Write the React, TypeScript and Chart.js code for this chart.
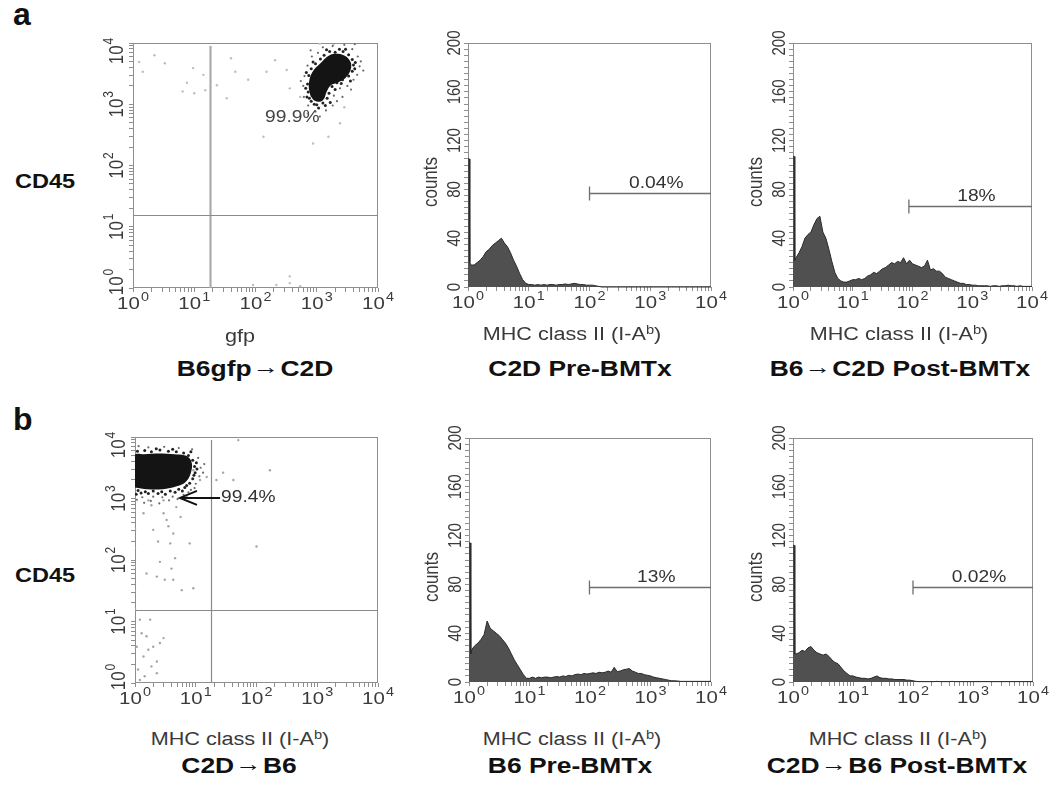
import React, { useEffect, useRef } from "react";
import { Chart, registerables } from "chart.js";

Chart.register(...registerables);

const FONT = '"Liberation Sans", Arial, Helvetica, sans-serif';
const SX = 1.2; // the original figure is stretched horizontally
const INK = "#3a3a3a";

// ---------- axis ticks ----------
const DECADE_EXPONENTS = [0, 1, 2, 3, 4];
const MINOR_MULTIPLIERS = [1, 2, 3, 4, 5, 6, 7, 8, 9];
const COUNT_TICK_LABELS = [0, 40, 80, 120, 160, 200];

// ---------- histogram channels (log10 of MHC class II fluorescence) ----------
const BIN_EXP = [0, 0.02, 0.03,
  0.05, 0.1, 0.15, 0.2, 0.25, 0.3, 0.35, 0.4, 0.45, 0.5, 0.55, 0.6, 0.65, 0.7, 0.75, 0.8, 0.85, 0.9, 0.95, 1.0,
  1.05, 1.1, 1.15, 1.2, 1.25, 1.3, 1.35, 1.4, 1.45, 1.5, 1.55, 1.6, 1.65, 1.7, 1.75, 1.8, 1.85, 1.9, 1.95, 2.0,
  2.05, 2.1, 2.15, 2.2, 2.25, 2.3, 2.35, 2.4, 2.45, 2.5, 2.55, 2.6, 2.65, 2.7, 2.75, 2.8, 2.85, 2.9, 2.95, 3.0,
  3.05, 3.1, 3.15, 3.2, 3.25, 3.3, 3.35, 3.4, 3.45, 3.5, 3.55, 3.6, 3.65, 3.7, 3.75, 3.8, 3.85, 3.9, 3.95, 4.0];

const HIST_C2D_PRE = [105, 105, 20,
  18, 18, 20, 22, 25, 29, 31, 34, 36, 38, 40, 36, 33, 28, 22, 17, 11, 6, 3, 2,
  2, 1.5, 2, 1.5, 2, 1.5, 2, 2, 1.5, 2, 2, 2.5, 2, 2.5, 3, 2.5, 2, 2, 1.5, 1.5,
  1.5, 1, 0.5, 0, 0, 0, 0, 0, 0, 0, 0, 0, 0, 0, 0, 0, 0, 0, 0, 0,
  0, 0, 0, 0, 0, 0, 0, 0, 0, 0, 0, 0, 0, 0, 0, 0, 0, 0, 0, 0];

const HIST_B6_TO_C2D_POST = [107, 107, 22,
  24, 28, 33, 40, 43, 45, 51, 56, 58, 45, 40, 31, 21, 12, 7, 5, 4, 4, 5, 6,
  6, 7, 6, 7, 9, 10, 12, 11, 13, 15, 16, 18, 20, 19, 21, 20, 24, 19, 22, 19,
  18, 17, 16, 17, 22, 14, 15, 13, 13, 11, 8, 7, 6, 5, 4, 3, 3, 2, 2, 1.5,
  1.5, 1, 1, 1, 1, 0.5, 1, 1, 0.5, 1, 1, 1.5, 1, 1, 0.5, 1, 0.5, 0.5, 0.5, 0.5];

const HIST_B6_PRE = [114, 114, 23,
  27, 30, 32, 35, 39, 50, 44, 42, 40, 38, 35, 32, 28, 23, 18, 14, 10, 6, 3, 3,
  4, 3, 4, 3.5, 4, 4, 3.5, 4, 4.5, 4, 5, 4.5, 5.5, 5, 6, 6.5, 6, 7, 6.5, 7,
  7.5, 7, 8, 7.5, 8, 9, 8, 12, 8.5, 9, 10, 10.5, 11, 9, 8, 7, 7, 6, 5.5, 5,
  4, 3.5, 3, 2.5, 2, 1.5, 1, 1, 0.8, 0.5, 0.5, 0.5, 0.5, 0.5, 0.5, 0.5, 0.5, 0.5, 0.5, 0.5];

const HIST_C2D_TO_B6_POST = [112, 112, 23,
  23, 24, 26, 25, 28, 29, 26, 24, 23, 22, 23, 21, 18, 16, 15, 12, 9, 7, 5, 5,
  4, 3.5, 3, 3, 2.5, 3, 4, 5, 3.5, 3, 3, 2.5, 2.5, 2, 2, 2, 2, 1.5, 1.5, 1,
  0.5, 0.3, 0.3, 0.3, 0.3, 0.3, 0.3, 0.5, 0.3, 0.3, 0.3, 0.3, 0.5, 0.3, 0.3, 0.3, 0.3, 0.3, 0.3, 0.3,
  0.3, 0.3, 0.3, 0.3, 0.3, 0.3, 0.3, 0.3, 0.3, 0.3, 0.3, 0.3, 0.3, 0.3, 0.3, 0.3, 0.3, 0.3, 0.3, 0.3];

// gate markers: [C2D Pre, B6->C2D Post, B6 Pre, C2D->B6 Post]
const HIST_GATE_START = [100, 87, 98, 100];
const HIST_GATE_LEVEL = [77, 66, 78, 78];
const HIST_GATE_LABELS = ["0.04%", "18%", "13%", "0.02%"];

// ---------- dot plots (log10 coordinates: [x, y]) ----------
type Pt = [number, number];

const DOT_A_CORE: Pt[] = [[2.9, 3.13], [2.96, 3.06], [3.05, 3.04], [3.12, 3.09], [3.16, 3.2], [3.23, 3.31],
  [3.35, 3.36], [3.47, 3.43], [3.55, 3.55], [3.56, 3.67], [3.49, 3.77], [3.38, 3.82], [3.26, 3.82],
  [3.15, 3.76], [3.06, 3.67], [2.96, 3.57], [2.89, 3.44], [2.87, 3.27], [2.9, 3.13]];

const DOT_A_EDGE: Pt[] = [[2.86, 3.2], [2.85, 3.33], [2.87, 3.47], [2.91, 3.58], [2.98, 3.66], [3.06, 3.74],
  [3.12, 3.8], [3.21, 3.86], [3.3, 3.85], [3.43, 3.86], [3.52, 3.81], [3.58, 3.73], [3.6, 3.64], [3.58, 3.54],
  [3.52, 3.46], [3.42, 3.4], [3.33, 3.35], [3.25, 3.29], [3.2, 3.18], [3.17, 3.1], [3.1, 3.02], [3.0, 2.99],
  [2.91, 3.05], [2.88, 3.1], [2.82, 3.26], [2.83, 3.52], [2.94, 3.69], [3.16, 3.89], [3.37, 3.9], [3.63, 3.68],
  [3.55, 3.38], [3.3, 3.24], [3.22, 3.03], [3.03, 2.94], [2.84, 3.12], [3.47, 3.9], [3.62, 3.58], [3.4, 3.34],
  [3.14, 2.98], [2.96, 3.0]];

const DOT_A_HALO: Pt[] = [[2.78, 3.3], [2.8, 3.46], [2.85, 3.63], [2.92, 3.78], [3.02, 3.84], [3.1, 3.93],
  [3.26, 3.95], [3.45, 3.97], [3.58, 3.9], [3.67, 3.78], [3.7, 3.62], [3.66, 3.48], [3.6, 3.4], [3.5, 3.3],
  [3.38, 3.26], [3.28, 3.14], [3.26, 2.98], [3.15, 2.9], [2.98, 2.88], [2.86, 2.98], [2.79, 3.12], [3.72, 3.7],
  [3.56, 3.24], [3.05, 2.8], [2.74, 3.38], [3.33, 3.05], [2.9, 3.88], [3.62, 3.98], [3.76, 3.55], [3.42, 3.12]];

const DOT_A_SPARSE: Pt[] = [[0.1, 3.69], [0.16, 3.53], [0.52, 3.67], [0.88, 3.35], [0.81, 3.21], [1.0, 3.18],
  [0.98, 3.59], [1.18, 3.23], [1.15, 3.48], [1.37, 3.31], [1.53, 3.1], [1.67, 3.53], [1.88, 3.4], [2.18, 3.53],
  [2.32, 3.72], [2.51, 3.56], [2.56, 3.26], [2.73, 3.12], [2.13, 2.47], [2.94, 2.36], [3.19, 2.47], [3.38, 2.69],
  [3.05, 3.99], [3.27, 3.97], [2.56, 0.08], [2.34, 0.05], [2.73, 0.03], [1.96, 0.05], [2.56, 0.19], [2.85, 2.85],
  [3.45, 2.95], [0.35, 3.8], [1.6, 3.75]];

const DOT_B_CORE: Pt[] = [[0, 3.18], [0.2, 3.15], [0.45, 3.15], [0.62, 3.18], [0.78, 3.23], [0.87, 3.31],
  [0.92, 3.42], [0.94, 3.54], [0.91, 3.64], [0.83, 3.7], [0.65, 3.72], [0.4, 3.73], [0.15, 3.72], [0, 3.71], [0, 3.18]];

const DOT_B_EDGE: Pt[] = [[0.04, 3.77], [0.16, 3.78], [0.27, 3.76], [0.41, 3.79], [0.55, 3.77], [0.68, 3.76],
  [0.8, 3.74], [0.88, 3.7], [0.95, 3.62], [0.98, 3.52], [0.99, 3.42], [0.95, 3.32], [0.9, 3.25], [0.82, 3.18],
  [0.72, 3.15], [0.58, 3.12], [0.44, 3.11], [0.3, 3.12], [0.17, 3.11], [0.05, 3.13], [0.02, 3.07], [0.22, 3.08],
  [0.5, 3.07], [0.66, 3.1], [1.02, 3.48], [1.01, 3.58], [0.92, 3.76], [0.35, 3.81], [0.62, 3.8], [0.85, 3.21],
  [0.1, 3.09], [0.38, 3.08], [0.78, 3.12], [0.97, 3.38]];

const DOT_B_HALO: Pt[] = [[0.06, 3.85], [0.22, 3.83], [0.48, 3.84], [0.72, 3.82], [0.94, 3.8], [1.04, 3.66],
  [1.08, 3.5], [1.06, 3.36], [1.0, 3.24], [0.92, 3.14], [0.8, 3.06], [0.62, 3.03], [0.45, 3.02], [0.3, 3.03],
  [0.12, 3.02], [0.03, 2.98], [0.26, 2.96], [0.56, 2.97], [0.7, 2.99], [1.12, 3.42], [1.14, 3.56], [0.88, 3.1],
  [0.4, 2.92], [0.15, 2.93], [0.98, 3.17]];

const DOT_B_SPARSE: Pt[] = [[0.27, 2.89], [0.47, 2.76], [0.52, 2.65], [0.63, 2.43], [0.58, 2.27], [0.9, 2.27],
  [0.66, 2.03], [0.19, 1.78], [0.49, 1.68], [0.63, 1.68], [0.96, 1.54], [0.36, 1.73], [0.77, 1.51], [0.6, 1.86],
  [0.41, 1.97], [0.3, 2.49], [0.14, 2.76], [0.22, 2.97], [0.47, 2.97], [0.68, 2.86], [0.85, 3.03], [0.55, 2.55],
  [0.75, 2.7], [0.38, 2.3], [0.08, 1.03], [0.19, 0.76], [0.3, 0.59], [0.14, 0.43], [0.05, 0.22], [0.36, 0.35],
  [0.41, 0.65], [0.11, 0.81], [0.25, 1.03], [0.16, 0.11], [0.47, 0.73], [0.03, 0.59], [0.27, 0.27], [0.08, 0.05],
  [0.22, 0.54], [0.36, 0.16], [1.18, 3.35], [1.34, 3.3], [1.62, 3.3], [2.0, 2.22], [2.22, 3.46], [1.7, 3.95],
  [1.07, 3.3], [0.96, 3.46], [0, 2.5], [0, 2.2], [0, 1.9], [0, 1.5], [0, 1.2], [0, 0.9], [0, 2.8], [1.45, 3.42]];

// quadrant gates [x, y] in linear units
const QUAD_A = [18, 15.5];
const QUAD_B = [17.8, 15.5];
const DOT_A_LABEL: Pt = [2.6, 2.79];
const DOT_A_LABEL_TEXT = "99.9%";
const DOT_B_ARROW_TAIL: Pt = [1.4, 3.01];
const DOT_B_ARROW_HEAD: Pt = [0.74, 3.01];
const DOT_B_LABEL_TEXT = "99.4%";

// ---------- helpers ----------
const toPts = (arr: Pt[]) => arr.map(([x, y]) => ({ x: Math.pow(10, x), y: Math.pow(10, y) }));
const histPts = (counts: number[]) => BIN_EXP.map((e, i) => ({ x: Math.pow(10, e), y: counts[i] ?? 0 }));

const LOG_TICKS: number[] = [];
DECADE_EXPONENTS.slice(0, 4).forEach((k) => MINOR_MULTIPLIERS.forEach((m) => LOG_TICKS.push(m * Math.pow(10, k))));
LOG_TICKS.push(10000);
const COUNT_TICKS: number[] = [];
for (let v = 0; v <= 200; v += 5) COUNT_TICKS.push(v);

function stretchedText(ctx: any, text: string, x: number, y: number, size: number, align: string, color: string, rotate = false, baseline = "alphabetic") {
  ctx.save();
  ctx.font = `${size}px ${FONT}`;
  ctx.fillStyle = color;
  ctx.textAlign = align;
  ctx.textBaseline = baseline;
  ctx.translate(x, y);
  ctx.scale(SX, 1);
  if (rotate) ctx.rotate(-Math.PI / 2);
  ctx.fillText(text, 0, 0);
  ctx.restore();
}

function powerLabel(ctx: any, k: number, x: number, y: number, rotate: boolean) {
  ctx.save();
  ctx.translate(x, y);
  ctx.scale(SX, 1);
  if (rotate) ctx.rotate(-Math.PI / 2);
  ctx.font = `17px ${FONT}`;
  const w1 = ctx.measureText("10").width;
  ctx.font = `12px ${FONT}`;
  const w2 = ctx.measureText(String(k)).width;
  const start = -(w1 + w2 + 1) / 2;
  ctx.fillStyle = INK;
  ctx.textAlign = "left";
  ctx.textBaseline = "alphabetic";
  ctx.font = `17px ${FONT}`;
  ctx.fillText("10", start, 0);
  ctx.font = `12px ${FONT}`;
  ctx.fillText(String(k), start + w1 + 1, -8);
  ctx.restore();
}

function drawBox(chart: any) {
  const { ctx, chartArea: a } = chart;
  ctx.save();
  ctx.strokeStyle = "#8e8e8e";
  ctx.lineWidth = 1;
  ctx.strokeRect(Math.round(a.left) + 0.5, Math.round(a.top) + 0.5, Math.round(a.right - a.left) - 1, Math.round(a.bottom - a.top) - 1);
  ctx.restore();
}

function xPowerLabels(chart: any) {
  const xs = chart.scales.x;
  DECADE_EXPONENTS.forEach((k) => powerLabel(chart.ctx, k, xs.getPixelForValue(Math.pow(10, k)), chart.chartArea.bottom + 21, false));
}

function logAxis() {
  return {
    type: "logarithmic",
    min: 1,
    max: 10000,
    afterBuildTicks: (s: any) => { s.ticks = LOG_TICKS.map((v) => ({ value: v })); },
    afterFit: (s: any) => { if (s.isHorizontal()) s.height = 0; else s.width = 0; },
    ticks: { display: false },
    grid: { drawOnChartArea: false, drawTicks: true, tickLength: 4, color: "#8e8e8e", lineWidth: 1 },
    border: { display: false },
  };
}

function countAxis() {
  return {
    type: "linear",
    min: 0,
    max: 200,
    afterBuildTicks: (s: any) => { s.ticks = COUNT_TICKS.map((v) => ({ value: v })); },
    afterFit: (s: any) => { s.width = 0; },
    ticks: { display: false },
    grid: { drawOnChartArea: false, drawTicks: true, tickLength: 4, color: "#8e8e8e", lineWidth: 1 },
    border: { display: false },
  };
}

type Rect = { x: number; y: number; w: number; h: number };
type Box = { l: number; t: number; r: number; b: number };

function padding(c: Rect, b: Box) {
  return { left: b.l - c.x, top: b.t - c.y, right: c.x + c.w - b.r, bottom: c.y + c.h - b.b };
}

function baseOptions(c: Rect, b: Box, y: any) {
  return {
    animation: false,
    responsive: false,
    events: [],
    layout: { padding: padding(c, b) },
    plugins: { legend: { display: false }, tooltip: { enabled: false } },
    scales: { x: logAxis(), y },
  };
}

function histogramConfig(c: Rect, b: Box, counts: number[], gi: number) {
  const decor = {
    id: "histDecor",
    beforeDatasetsDraw: (chart: any) => drawBox(chart),
    afterDatasetsDraw: (chart: any) => {
      const { ctx, chartArea: a, scales } = chart;
      const gx = scales.x.getPixelForValue(HIST_GATE_START[gi]);
      const gy = Math.round(scales.y.getPixelForValue(HIST_GATE_LEVEL[gi])) + 0.5;
      ctx.save();
      ctx.strokeStyle = "#6e6e6e";
      ctx.lineWidth = 1.3;
      ctx.beginPath();
      ctx.moveTo(gx, gy); ctx.lineTo(a.right, gy);
      ctx.moveTo(gx, gy - 7); ctx.lineTo(gx, gy + 7);
      ctx.stroke();
      ctx.restore();
      stretchedText(ctx, HIST_GATE_LABELS[gi], (gx + a.right) / 2 + 6, gy - 6, 16, "center", "#333");
    },
    afterDraw: (chart: any) => {
      const { ctx, chartArea: a, scales } = chart;
      xPowerLabels(chart);
      COUNT_TICK_LABELS.forEach((v) => stretchedText(ctx, String(v), a.left - 8, scales.y.getPixelForValue(v), 15, "center", INK, true));
      stretchedText(ctx, "counts", a.left - 31, a.top + 139, 17, "center", INK, true);
    },
  };
  return {
    type: "line",
    data: {
      datasets: [{
        data: histPts(counts),
        borderColor: "#2a2a2a",
        borderWidth: 1,
        backgroundColor: "#505050",
        fill: "origin",
        pointRadius: 0,
        tension: 0,
        clip: 2,
      }],
    },
    options: baseOptions(c, b, countAxis()),
    plugins: [decor],
  };
}

function dotConfig(c: Rect, b: Box, core: Pt[], edge: Pt[], halo: Pt[], sparse: Pt[], quad: number[], isA: boolean) {
  const decor = {
    id: "dotDecor",
    beforeDatasetsDraw: (chart: any) => {
      drawBox(chart);
      const { ctx, chartArea: a, scales } = chart;
      const qx = Math.round(scales.x.getPixelForValue(quad[0])) + 0.5;
      const qy = Math.round(scales.y.getPixelForValue(quad[1])) + 0.5;
      ctx.save();
      ctx.strokeStyle = isA ? "#ababab" : "#8a8a8a";
      ctx.lineWidth = isA ? 2.2 : 1.2;
      ctx.beginPath(); ctx.moveTo(qx, a.top + 3); ctx.lineTo(qx, a.bottom); ctx.stroke();
      ctx.strokeStyle = "#8a8a8a";
      ctx.lineWidth = 1.2;
      ctx.beginPath(); ctx.moveTo(a.left, qy); ctx.lineTo(a.right, qy); ctx.stroke();
      ctx.restore();
    },
    afterDatasetsDraw: (chart: any) => {
      const { ctx, scales } = chart;
      if (isA) {
        stretchedText(ctx, DOT_A_LABEL_TEXT, scales.x.getPixelForValue(Math.pow(10, DOT_A_LABEL[0])),
          scales.y.getPixelForValue(Math.pow(10, DOT_A_LABEL[1])), 16, "center", "#444", false, "middle");
      } else {
        const tx = scales.x.getPixelForValue(Math.pow(10, DOT_B_ARROW_TAIL[0]));
        const hx = scales.x.getPixelForValue(Math.pow(10, DOT_B_ARROW_HEAD[0]));
        const ay = scales.y.getPixelForValue(Math.pow(10, DOT_B_ARROW_HEAD[1]));
        ctx.save();
        ctx.strokeStyle = "#111";
        ctx.lineWidth = 2;
        ctx.beginPath();
        ctx.moveTo(tx, ay); ctx.lineTo(hx, ay);
        ctx.moveTo(hx + 17, ay - 7); ctx.lineTo(hx, ay); ctx.lineTo(hx + 17, ay + 7);
        ctx.stroke();
        ctx.restore();
        stretchedText(ctx, DOT_B_LABEL_TEXT, tx + 1, ay, 16, "left", "#333", false, "middle");
      }
    },
    afterDraw: (chart: any) => {
      const { ctx, chartArea: a, scales } = chart;
      xPowerLabels(chart);
      DECADE_EXPONENTS.forEach((k) => {
        let py = scales.y.getPixelForValue(Math.pow(10, k));
        if (k === 4) py += 8;
        if (k === 0) py -= 6;
        powerLabel(ctx, k, a.left - 10, py, true);
      });
    },
  };
  return {
    type: "scatter",
    data: {
      datasets: [
        { data: toPts(core), showLine: true, fill: "shape", backgroundColor: "#141414", borderColor: "#141414", borderWidth: 0, pointRadius: 0, tension: 0.3 },
        { data: toPts(edge), pointRadius: 1.5, backgroundColor: "#222", borderWidth: 0 },
        { data: toPts(halo), pointRadius: 1.1, backgroundColor: "#6a6a6a", borderWidth: 0 },
        { data: toPts(sparse), pointRadius: 1.2, backgroundColor: isA ? "#bdbdbd" : "#a5a5a5", borderWidth: 0 },
      ],
    },
    options: baseOptions(c, b, logAxis()),
    plugins: [decor],
  };
}

type Panel = { id: string; canvas: Rect; build: () => any };

const CANVAS_A1: Rect = { x: 80, y: 20, w: 325, h: 310 };
const CANVAS_A2: Rect = { x: 405, y: 20, w: 330, h: 310 };
const CANVAS_A3: Rect = { x: 735, y: 20, w: 315, h: 310 };
const CANVAS_B1: Rect = { x: 80, y: 414, w: 325, h: 310 };
const CANVAS_B2: Rect = { x: 405, y: 414, w: 330, h: 310 };
const CANVAS_B3: Rect = { x: 735, y: 414, w: 315, h: 310 };

const PANELS: Panel[] = [
  { id: "a1", canvas: CANVAS_A1, build: () => dotConfig(CANVAS_A1, { l: 133, t: 43, r: 378, b: 288 }, DOT_A_CORE, DOT_A_EDGE, DOT_A_HALO, DOT_A_SPARSE, QUAD_A, true) },
  { id: "a2", canvas: CANVAS_A2, build: () => histogramConfig(CANVAS_A2, { l: 468, t: 43, r: 711, b: 287 }, HIST_C2D_PRE, 0) },
  { id: "a3", canvas: CANVAS_A3, build: () => histogramConfig(CANVAS_A3, { l: 793, t: 43, r: 1032, b: 287 }, HIST_B6_TO_C2D_POST, 1) },
  { id: "b1", canvas: CANVAS_B1, build: () => dotConfig(CANVAS_B1, { l: 135, t: 437, r: 378, b: 683 }, DOT_B_CORE, DOT_B_EDGE, DOT_B_HALO, DOT_B_SPARSE, QUAD_B, false) },
  { id: "b2", canvas: CANVAS_B2, build: () => histogramConfig(CANVAS_B2, { l: 469, t: 438, r: 711, b: 682 }, HIST_B6_PRE, 2) },
  { id: "b3", canvas: CANVAS_B3, build: () => histogramConfig(CANVAS_B3, { l: 793, t: 438, r: 1033, b: 682 }, HIST_C2D_TO_B6_POST, 3) },
];

function PanelCanvas({ panel }: { panel: Panel }) {
  const ref = useRef<HTMLCanvasElement>(null);
  useEffect(() => {
    const chart = new Chart(ref.current as HTMLCanvasElement, panel.build());
    return () => chart.destroy();
  }, [panel]);
  const c = panel.canvas;
  return (
    <canvas
      ref={ref}
      width={c.w}
      height={c.h}
      style={{ position: "absolute", left: c.x, top: c.y, width: c.w, height: c.h }}
    />
  );
}

function Txt(props: { x: number; baseline: number; size: number; bold?: boolean; align?: "center" | "left"; sx?: number; color?: string; children: any }) {
  const { x, baseline, size, bold, align = "center", sx = SX, color = "#111", children } = props;
  const top = baseline - 0.8465 * size;
  return (
    <div
      style={{
        position: "absolute",
        left: x,
        top,
        fontFamily: FONT,
        fontSize: size,
        lineHeight: `${size}px`,
        fontWeight: bold ? 700 : 400,
        whiteSpace: "nowrap",
        color,
        transform: align === "center" ? `translateX(-50%) scaleX(${sx})` : `scaleX(${sx})`,
        transformOrigin: align === "center" ? "center" : "left",
      }}
    >
      {children}
    </div>
  );
}

const Sup = ({ children }: { children: any }) => (
  <span style={{ fontSize: "0.68em", verticalAlign: "0.5em", lineHeight: 0 }}>{children}</span>
);
const Arrow = () => (
  <span style={{ fontSize: "1em", lineHeight: 0, verticalAlign: "0.12em", margin: "0 1px" }}>→</span>
);
const MHC = () => (<>MHC class II (I-A<Sup>b</Sup>)</>);

export default function App() {
  return (
    <div style={{ position: "absolute", left: 0, top: 0, width: 1050, height: 787, background: "#fff", overflow: "hidden" }}>
      {PANELS.map((p) => <PanelCanvas key={p.id} panel={p} />)}

      <Txt x={13} baseline={25} size={32} bold align="left" sx={1}>a</Txt>
      <Txt x={13} baseline={430} size={32} bold align="left" sx={1}>b</Txt>

      <Txt x={15} baseline={188} size={21} bold align="left" sx={1.12}>CD45</Txt>
      <Txt x={15} baseline={582} size={21} bold align="left" sx={1.12}>CD45</Txt>

      <Txt x={240} baseline={342} size={18} color={INK}>gfp</Txt>
      <Txt x={572} baseline={340} size={18} color={INK}><MHC /></Txt>
      <Txt x={899} baseline={340} size={18} color={INK}><MHC /></Txt>
      <Txt x={240} baseline={745} size={18} color={INK}><MHC /></Txt>
      <Txt x={572} baseline={745} size={18} color={INK}><MHC /></Txt>
      <Txt x={898} baseline={745} size={18} color={INK}><MHC /></Txt>

      <Txt x={255} baseline={377} size={22} bold>B6gfp<Arrow />C2D</Txt>
      <Txt x={580} baseline={377} size={22} bold>C2D Pre-BMTx</Txt>
      <Txt x={900} baseline={377} size={22} bold>B6<Arrow />C2D Post-BMTx</Txt>
      <Txt x={239} baseline={774} size={22} bold>C2D<Arrow />B6</Txt>
      <Txt x={570} baseline={774} size={22} bold>B6 Pre-BMTx</Txt>
      <Txt x={897} baseline={774} size={22} bold>C2D<Arrow />B6 Post-BMTx</Txt>
    </div>
  );
}
